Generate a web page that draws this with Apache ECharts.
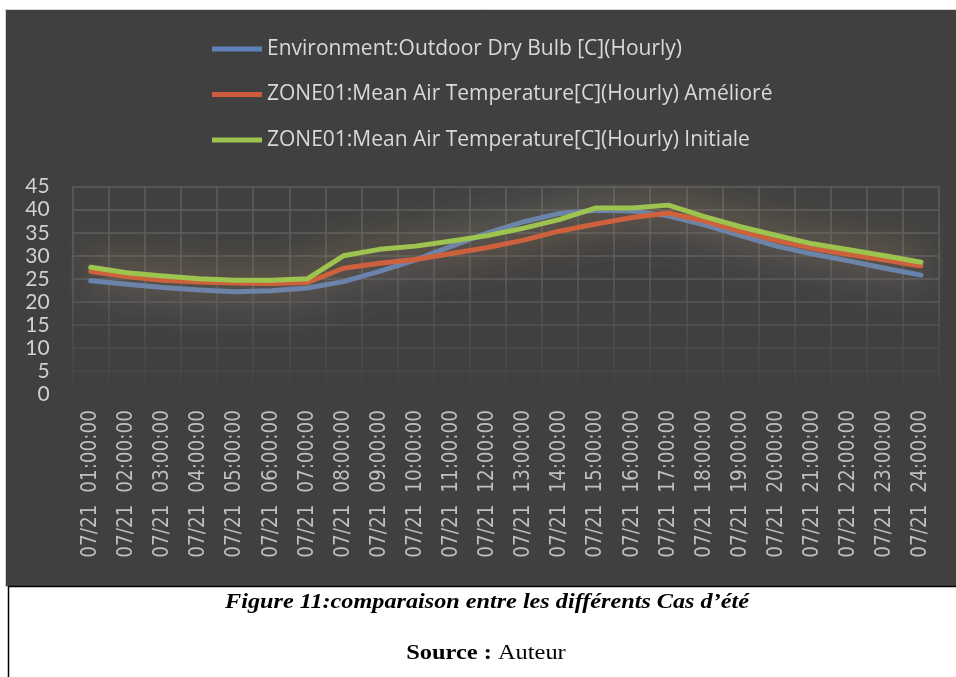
<!DOCTYPE html>
<html>
<head>
<meta charset="utf-8">
<script src="https://cdn.jsdelivr.net/npm/echarts@6/dist/echarts.min.js"></script>
<style>
  html, body { margin: 0; padding: 0; background: #ffffff; }
  #chart { width: 956px; height: 677px; }
</style>
</head>
<body>
<div id="chart"></div>
<script>
const categories = [
  '07/21  01:00:00', '07/21  02:00:00', '07/21  03:00:00', '07/21  04:00:00',
  '07/21  05:00:00', '07/21  06:00:00', '07/21  07:00:00', '07/21  08:00:00',
  '07/21  09:00:00', '07/21  10:00:00', '07/21  11:00:00', '07/21  12:00:00',
  '07/21  13:00:00', '07/21  14:00:00', '07/21  15:00:00', '07/21  16:00:00',
  '07/21  17:00:00', '07/21  18:00:00', '07/21  19:00:00', '07/21  20:00:00',
  '07/21  21:00:00', '07/21  22:00:00', '07/21  23:00:00', '07/21  24:00:00'
];
const seriesNames = [
  'Environment:Outdoor Dry Bulb [C](Hourly)',
  'ZONE01:Mean Air Temperature[C](Hourly) Amélioré',
  'ZONE01:Mean Air Temperature[C](Hourly) Initiale'
];
const outdoorDryBulb = [24.6, 23.8, 23.1, 22.6, 22.2, 22.4, 23.0, 24.4, 26.6, 29.1, 32.1, 35.0,
                        37.4, 39.2, 39.9, 39.7, 38.7, 36.7, 34.4, 32.1, 30.4, 28.9, 27.3, 25.8];
const zoneAmeliore = [26.6, 25.5, 24.7, 24.3, 24.1, 24.0, 24.2, 27.3, 28.4, 29.2, 30.5, 31.8,
                      33.4, 35.4, 36.9, 38.3, 39.3, 37.6, 35.3, 33.3, 31.6, 30.3, 29.1, 27.8];
const zoneInitiale = [27.5, 26.3, 25.6, 25.0, 24.7, 24.7, 25.0, 30.0, 31.4, 32.1, 33.2, 34.4,
                      36.0, 37.9, 40.4, 40.4, 41.0, 38.5, 36.3, 34.4, 32.6, 31.3, 30.0, 28.6];
const yTicks = { min: 0, max: 45, interval: 5 };
const captionTitle = 'Figure 11:comparaison entre les différents Cas d’été';
const captionSourceLabel = 'Source :';
const captionSourceValue = ' Auteur';

const colors = ['#5f81b9', '#cf5a3c', '#9cc44e'];
const glow = ['rgba(85,120,195,0.9)', 'rgba(200,95,60,0.7)', 'rgba(190,180,60,0.85)'];
const dataSets = [outdoorDryBulb, zoneAmeliore, zoneInitiale];

const gridTop = 186.7, gridBottomY = 394;
const fadeGrid = {
  type: 'linear', x: 0, y: gridTop, x2: 0, y2: gridBottomY + 5, global: true,
  colorStops: [
    { offset: 0, color: '#5e5e5e' },
    { offset: 0.45, color: '#595959' },
    { offset: 0.8, color: '#4a4a4a' },
    { offset: 1, color: '#404040' }
  ]
};

const chart = echarts.init(document.getElementById('chart'), null, { renderer: 'canvas' });
chart.setOption({
  animation: false,
  backgroundColor: '#ffffff',
  graphic: [
    { type: 'rect', z: -10, shape: { x: 5.5, y: 9.5, width: 952, height: 577 },
      style: { fill: '#404040', stroke: '#d4d4d4', lineWidth: 1 } },
    { type: 'line', z: 10, shape: { x1: 8, y1: 586.5, x2: 956, y2: 586.5 },
      style: { stroke: '#000000', lineWidth: 1.5 } },
    { type: 'line', z: 10, shape: { x1: 8.5, y1: 586, x2: 8.5, y2: 677 },
      style: { stroke: '#000000', lineWidth: 1.5 } },
    { type: 'text', z: 10, x: 487, y: 603, scaleX: 1.21,
      style: { text: captionTitle, fill: '#000000', align: 'center', verticalAlign: 'middle',
               font: 'italic bold 20px "Liberation Serif", "DejaVu Serif", serif' } },
    { type: 'text', z: 10, x: 486, y: 654, scaleX: 1.22,
      style: { text: '{b|' + captionSourceLabel + '}{r|' + captionSourceValue + '}',
               align: 'center', verticalAlign: 'middle',
               rich: {
                 b: { fontFamily: '"Liberation Serif", serif', fontWeight: 'bold', fontSize: 20, fill: '#000' },
                 r: { fontFamily: '"Liberation Serif", serif', fontSize: 20, fill: '#000' }
               } } }
  ],
  legend: {
    orient: 'vertical',
    left: 207,
    top: 31,
    itemWidth: 50,
    itemHeight: 5,
    itemGap: 19.5,
    icon: 'rect',
    data: seriesNames,
    textStyle: { color: '#d9d9d9', fontFamily: 'Open Sans', fontSize: 21, lineHeight: 26 }
  },
  grid: { left: 72.7, right: 17, top: gridTop, bottom: 677 - gridBottomY, containLabel: false },
  xAxis: {
    type: 'category',
    data: categories,
    boundaryGap: true,
    axisLine: { show: false },
    axisTick: { show: false },
    splitLine: { show: true, lineStyle: { color: fadeGrid, width: 1.5 } },
    axisLabel: {
      rotate: 90, interval: 0, margin: 16,
      color: '#bfbfbf', fontFamily: '"DejaVu Sans Condensed", "DejaVu Sans"', fontSize: 20.5
    }
  },
  yAxis: {
    type: 'value',
    min: yTicks.min, max: yTicks.max, interval: yTicks.interval,
    axisLine: { show: false },
    axisTick: { show: false },
    splitLine: { show: true, lineStyle: { color: fadeGrid, width: 1.5 } },
    axisLabel: { margin: 23, color: '#d0d0d0', fontFamily: 'Lato', fontSize: 21 }
  },
  series: seriesNames.map((name, i) => ({
    name: name,
    type: 'line',
    data: dataSets[i],
    showSymbol: false,
    symbol: 'none',
    smooth: false,
    color: colors[i],
    lineStyle: {
      color: colors[i], width: 5, cap: 'round', join: 'round',
      shadowColor: glow[i], shadowBlur: 40
    }
  }))
});
</script>
</body>
</html>
